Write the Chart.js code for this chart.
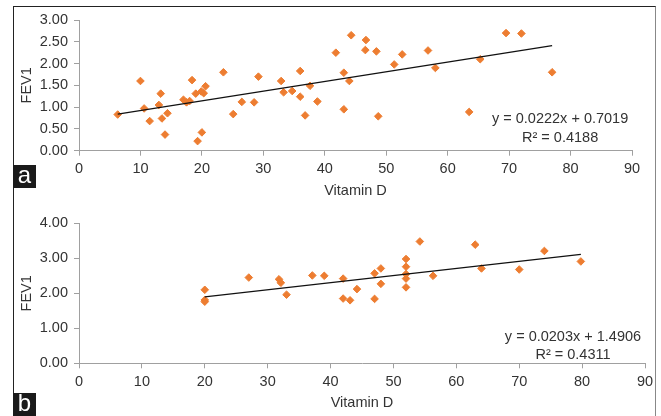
<!DOCTYPE html>
<html lang="en">
<head>
  <meta charset="UTF-8" />
  <title>FEV1 vs Vitamin D</title>
  <script src="https://cdn.jsdelivr.net/npm/chart.js"></script>
  <style>
    body {
      margin: 0;
      background: #fff;
      width: 661px;
      height: 416px;
      overflow: hidden;
      position: relative;
      font-family: 'Liberation Sans', Arial, sans-serif;
    }
    .frame {
      position: absolute;
      left: 13px;
      top: 6px;
      width: 641px;
      height: 420px;
      border: 1px solid #222;
      border-right-color: #888;
      border-bottom: none;
    }
    canvas {
      position: absolute;
      left: 0;
    }
    #chartA { top: 0; }
    #chartB { top: 200px; }
    .tag {
      position: absolute;
      left: 13px;
      width: 23px;
      height: 23px;
      background: #1a1a1a;
      color: #fff;
      font-size: 24px;
      line-height: 20px;
      text-align: center;
    }
  </style>
</head>
<body>
  <div class="frame"></div>
  <canvas id="chartA" width="661" height="200"></canvas>
  <canvas id="chartB" width="661" height="216"></canvas>
  <div class="tag" style="top:165px">a</div>
  <div class="tag" style="top:393px">b</div>

  <script>
    // panel a
    const vitD_a = [6.3, 10, 10.6, 11.5, 13.3, 13, 13.5, 14.4, 14, 17, 17.5, 18, 18.4, 19, 20.3, 19.9,
      20.6, 19.3, 20, 23.5, 25.1, 26.5, 28.5, 29.2, 32.9, 33.3, 34.7, 36, 36, 36.8, 37.6, 38.8,
      41.8, 43.1, 44, 44.3, 43.1, 46.6, 46.7, 48.4, 48.7, 51.3, 52.6, 56.8, 58, 63.5, 65.3, 69.5, 72, 77];
    const fev1_a = [0.83, 1.60, 0.97, 0.68, 1.31, 1.05, 0.74, 0.86, 0.37, 1.17, 1.11, 1.14, 1.62, 1.31, 1.32, 1.36,
      1.48, 0.22, 0.42, 1.80, 0.84, 1.12, 1.11, 1.70, 1.60, 1.34, 1.37, 1.83, 1.24, 0.81, 1.49, 1.13,
      2.25, 1.79, 1.60, 2.65, 0.95, 2.31, 2.54, 2.28, 0.79, 1.98, 2.21, 2.30, 1.90, 0.89, 2.10, 2.70, 2.69, 1.80];
    const slope_a = 0.0222, intercept_a = 0.7019;
    const eq_a = ['y = 0.0222x + 0.7019', 'R\u00b2 = 0.4188'];

    // panel b
    const vitD_b = [20, 20, 20, 27, 31.8, 32.1, 33, 37.1, 39, 42, 42, 43.1, 44.2, 47, 47,
      48, 48, 52, 52, 52, 52, 52, 54.2, 56.3, 63, 64, 70, 74, 79.8];
    const fev1_b = [2.10, 1.81, 1.76, 2.45, 2.40, 2.30, 1.96, 2.51, 2.50, 2.42, 1.85, 1.80, 2.12, 1.84, 2.57,
      2.71, 2.27, 2.98, 2.76, 2.55, 2.42, 2.17, 3.48, 2.50, 3.39, 2.71, 2.68, 3.21, 2.91];
    const slope_b = 0.0203, intercept_b = 1.4906;
    const eq_b = ['y = 0.0203x + 1.4906', 'R\u00b2 = 0.4311'];

    const FONT = "'Liberation Sans', Arial, sans-serif";
    const AXIS = '#a0a0a0';
    const TEXT = '#333';
    const ORANGE = '#ed7d31';

    const eqLabel = {
      id: 'eqLabel',
      afterDraw(chart, args, opts) {
        const { ctx, scales } = chart;
        ctx.save();
        ctx.font = '14.5px ' + FONT;
        ctx.fillStyle = TEXT;
        ctx.textAlign = 'center';
        ctx.textBaseline = 'middle';
        const x = scales.x.getPixelForValue(opts.x);
        opts.lines.forEach((t, i) => ctx.fillText(t, x, scales.y.getPixelForValue(opts.y[i])));
        ctx.restore();
      }
    };

    function makeChart(id, xs, ys, slope, intercept, yMax, yStep, eq, eqX, eqY, pad, xAxisH, xTitlePad) {
      const points = xs.map((x, i) => ({ x: x, y: ys[i] }));
      const x0 = Math.min(...xs), x1 = Math.max(...xs);
      const trend = [{ x: x0, y: slope * x0 + intercept }, { x: x1, y: slope * x1 + intercept }];

      return new Chart(document.getElementById(id), {
        type: 'scatter',
        data: {
          datasets: [
            { data: trend, showLine: true, borderColor: '#111', borderWidth: 1.3, pointRadius: 0 },
            { data: points, pointStyle: 'rectRot', pointRadius: 3.8, backgroundColor: ORANGE,
              borderColor: ORANGE, borderWidth: 1 }
          ]
        },
        options: {
          responsive: false,
          animation: false,
          layout: { padding: pad },
          plugins: {
            legend: { display: false },
            tooltip: { enabled: false },
            eqLabel: { lines: eq, x: eqX, y: eqY }
          },
          scales: {
            x: {
              min: 0, max: 90,
              afterFit: s => { s.height = xAxisH; },
              grid: { drawOnChartArea: false, color: AXIS, tickLength: 5 },
              border: { color: AXIS },
              ticks: { stepSize: 10, padding: 4.6, color: TEXT, font: { family: FONT, size: 14.5 } },
              title: { display: true, text: 'Vitamin D', color: TEXT, padding: { top: 0, bottom: xTitlePad },
                font: { family: FONT, size: 14.5 } }
            },
            y: {
              min: 0, max: yMax,
              afterFit: s => { s.width = 79; },
              grid: { drawOnChartArea: false, color: AXIS, tickLength: 5 },
              border: { color: AXIS },
              ticks: { stepSize: yStep, padding: 6, color: TEXT, font: { family: FONT, size: 14.5 },
                callback: v => v.toFixed(2) },
              title: { display: true, text: 'FEV1', color: TEXT, padding: { top: 18.5, bottom: 0 },
                font: { family: FONT, size: 14.5 } }
            }
          }
        },
        plugins: [eqLabel]
      });
    }

    makeChart('chartA', vitD_a, fev1_a, slope_a, intercept_a, 3, 0.5, eq_a, 78.3, [0.73, 0.30],
      { top: 20, right: 29, bottom: 0, left: 0 }, 49.3, 0);
    makeChart('chartB', vitD_b, fev1_b, slope_b, intercept_b, 4, 1, eq_b, 78.55, [0.76, 0.24],
      { top: 23.3, right: 16, bottom: 0, left: 0 }, 52.7, 4.3);
  </script>
</body>
</html>
